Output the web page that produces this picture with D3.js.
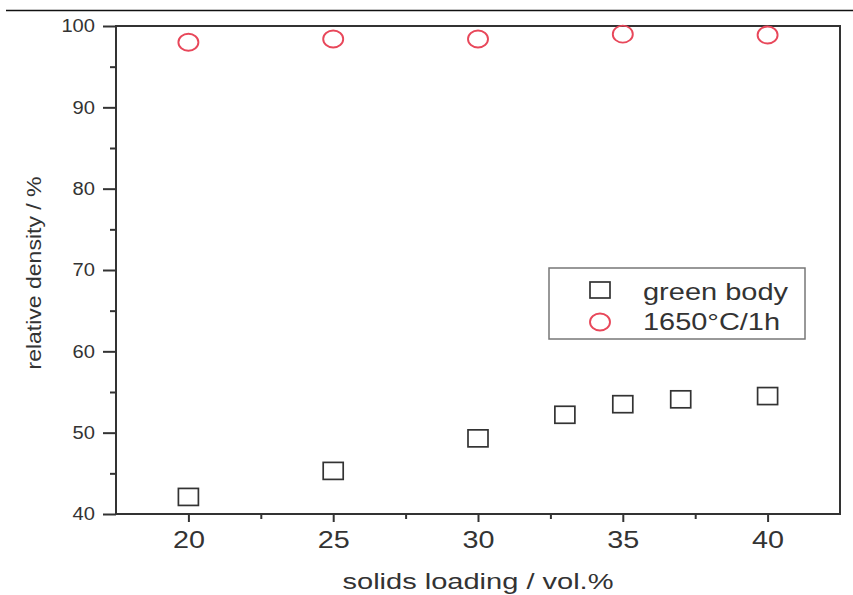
<!DOCTYPE html>
<html>
<head>
<meta charset="utf-8">
<script src="https://cdn.jsdelivr.net/npm/d3@7"></script>
<style>
  body { margin: 0; background: #fff; }
  svg { display: block; font-family: Arial, "Liberation Sans", sans-serif; }
</style>
</head>
<body>
<svg width="853" height="595"></svg>
<script>
// solids loading (vol.%)
var loadingGreen = [20, 25, 30, 33, 35, 37, 40];
var densityGreen = [42.1, 45.3, 49.3, 52.2, 53.5, 54.1, 54.5];

var loadingSint = [20, 25, 30, 35, 40];
var densitySint = [98.0, 98.4, 98.4, 99.0, 98.9];

var xMajor = [20, 25, 30, 35, 40];
var xMinor = [22.5, 27.5, 32.5, 37.5];
var yMajor = [40, 50, 60, 70, 80, 90, 100];
var yMinor = [45, 55, 65, 75, 85, 95];

var legendLabels = ["green body", "1650\u00b0C/1h"];

var svg = d3.select("svg");
var plotLeft = 116, plotRight = 840, plotTop = 26, plotBottom = 514;
var ink = "#333";
var red = "#e8475a";

var x = d3.scaleLinear().domain([17.5, 42.5]).range([plotLeft, plotRight]);
var y = d3.scaleLinear().domain([40, 100]).range([plotBottom, plotTop]);

// rule across the top of the figure
svg.append("line")
    .attr("x1", 6).attr("x2", 853)
    .attr("y1", 10.5).attr("y2", 10.5)
    .attr("stroke", "#111").attr("stroke-width", 1.5);

// minor ticks
svg.append("g")
    .attr("transform", "translate(0," + plotBottom + ")")
    .call(d3.axisBottom(x).tickValues(xMinor).tickSize(5).tickFormat(""))
    .call(function(g) { g.select(".domain").remove(); });
svg.append("g")
    .attr("transform", "translate(" + plotLeft + ",0)")
    .call(d3.axisLeft(y).tickValues(yMinor).tickSize(6).tickFormat(""))
    .call(function(g) { g.select(".domain").remove(); });

// major ticks + labels
var gx = svg.append("g")
    .attr("transform", "translate(0," + plotBottom + ")")
    .call(d3.axisBottom(x).tickValues(xMajor).tickSize(8));
gx.select(".domain").remove();
gx.selectAll("text").attr("font-size", "23px").attr("fill", ink)
    .attr("font-family", "Arial, 'Liberation Sans', sans-serif")
    .attr("y", 34).attr("dy", null)
    .attr("textLength", 32).attr("lengthAdjust", "spacingAndGlyphs");

var gy = svg.append("g")
    .attr("transform", "translate(" + plotLeft + ",0)")
    .call(d3.axisLeft(y).tickValues(yMajor).tickSize(13).tickPadding(8));
gy.select(".domain").remove();
gy.selectAll("text").attr("font-size", "18px").attr("fill", ink)
    .attr("font-family", "Arial, 'Liberation Sans', sans-serif")
    .attr("textLength", function(d) { return String(d).length * 11.2; })
    .attr("lengthAdjust", "spacingAndGlyphs");

svg.selectAll(".tick line").attr("stroke", ink).attr("stroke-width", 2);

// plot frame
svg.append("rect")
    .attr("x", plotLeft).attr("y", plotTop)
    .attr("width", plotRight - plotLeft).attr("height", plotBottom - plotTop)
    .attr("fill", "none").attr("stroke", ink).attr("stroke-width", 2);

// green body squares
svg.append("g").selectAll("rect")
    .data(d3.zip(loadingGreen, densityGreen))
    .enter().append("rect")
    .attr("x", function(d) { return x(d[0]) - 10; })
    .attr("y", function(d) { return y(d[1]) - 8.5; })
    .attr("width", 20).attr("height", 17)
    .attr("fill", "none").attr("stroke", ink).attr("stroke-width", 1.7);

// sintered circles
svg.append("g").selectAll("ellipse")
    .data(d3.zip(loadingSint, densitySint))
    .enter().append("ellipse")
    .attr("cx", function(d) { return x(d[0]); })
    .attr("cy", function(d) { return y(d[1]); })
    .attr("rx", 10).attr("ry", 8.5)
    .attr("fill", "none").attr("stroke", red).attr("stroke-width", 1.9);

// axis titles
svg.append("text")
    .attr("x", 478).attr("y", 589)
    .attr("text-anchor", "middle")
    .attr("font-size", "22px").attr("fill", ink)
    .attr("textLength", 271).attr("lengthAdjust", "spacingAndGlyphs")
    .text("solids loading / vol.%");

svg.append("text")
    .attr("transform", "translate(41,273) rotate(-90)")
    .attr("text-anchor", "middle")
    .attr("font-size", "20px").attr("fill", ink)
    .attr("textLength", 193).attr("lengthAdjust", "spacingAndGlyphs")
    .text("relative density / %");

// legend
var lg = svg.append("g");
lg.append("rect")
    .attr("x", 549).attr("y", 268).attr("width", 256).attr("height", 71)
    .attr("fill", "#fff").attr("stroke", "#777").attr("stroke-width", 1.5);
lg.append("rect")
    .attr("x", 590).attr("y", 282).attr("width", 20).attr("height", 16)
    .attr("fill", "none").attr("stroke", ink).attr("stroke-width", 1.7);
lg.append("ellipse")
    .attr("cx", 600).attr("cy", 322).attr("rx", 10).attr("ry", 8.5)
    .attr("fill", "none").attr("stroke", red).attr("stroke-width", 1.9);
lg.selectAll("text")
    .data(legendLabels)
    .enter().append("text")
    .attr("x", 643)
    .attr("y", function(d, i) { return 300 + i * 30; })
    .attr("font-size", "24px").attr("fill", ink)
    .attr("textLength", function(d, i) { return i === 0 ? 145 : 137; })
    .attr("lengthAdjust", "spacingAndGlyphs")
    .text(function(d) { return d; });
</script>
</body>
</html>
